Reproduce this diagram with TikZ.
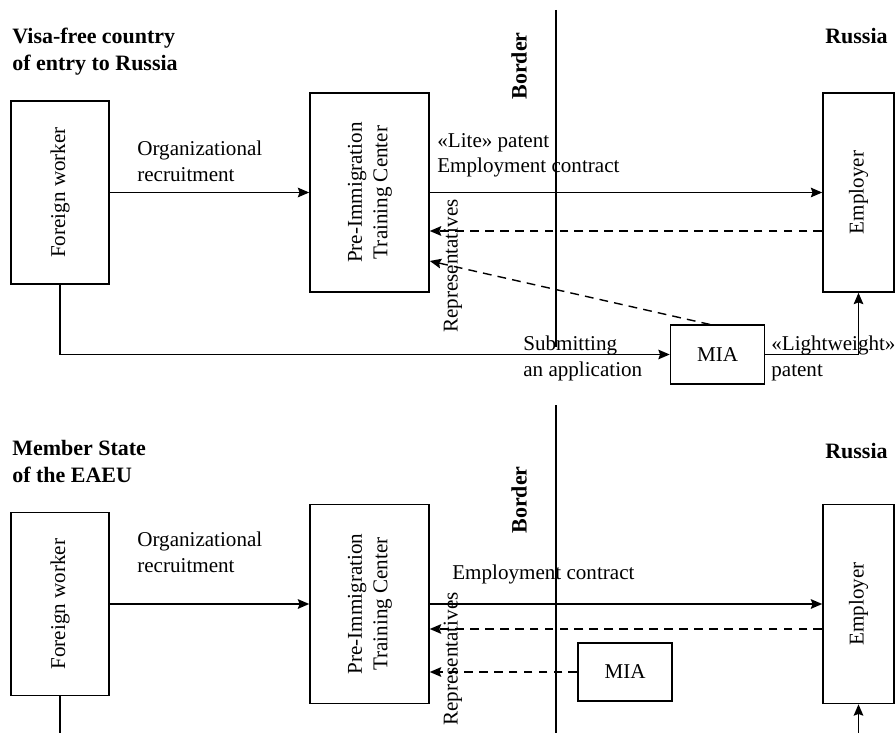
\documentclass[tikz,border=0pt]{standalone}
\usepackage{fontspec}
\setmainfont{Liberation Serif}
\usepackage{graphicx}
\usetikzlibrary{arrows.meta}
\usetikzlibrary{positioning}

\begin{document}
\begin{tikzpicture}[x=0.02cm,y=-0.02cm,
    every node/.style={font=\fontsize{12}{14.5}\selectfont},
    box/.style={draw,rectangle,line width=0.9pt,inner sep=0pt},
    workerbox/.style={box,minimum width=1.96cm,minimum height=3.66cm},
    pitcbox/.style={box,minimum width=2.38cm,minimum height=3.98cm},
    empbox/.style={box,minimum width=1.42cm,minimum height=3.98cm},
    miabox/.style={box,minimum width=1.88cm,minimum height=1.17cm},
    title/.style={font=\fontsize{12.5}{15.3}\selectfont\bfseries,inner sep=0pt,align=left},
    lbl/.style={inner sep=0pt,align=left,anchor=north west},
    link/.style={line width=0.8pt,-{Stealth[length=6.5pt,width=5.5pt,inset=1pt]}},
    back/.style={link,dash pattern=on 5pt off 3.5pt}]

  \useasboundingbox (0,0) rectangle (896,733);

  \node [title,anchor=north west] (visa) at (12,28) {Visa-free country\\of entry to Russia};
  \node [title,anchor=base west]  (rus1) at (825,44) {Russia};
  \node [title,rotate=90]         (bord1) at (519,66) {Border};

  \node [workerbox] (fw1)   at (60,192.5)    {\rotatebox{90}{Foreign worker}};
  \node [pitcbox]   (pitc1) at (369.5,192.5) {\rotatebox{90}{\begin{tabular}{@{}c@{}}Pre-Immigration\\Training Center\end{tabular}}};
  \node [empbox]    (emp1)  at (858.5,192.5) {\rotatebox{90}{Employer}};
  \node [miabox]    (mia1)  at (717.5,354.5) {MIA};

  \node [lbl] (org1)  at (137,141) {Organizational\\recruitment};
  \node [lbl] (lite)  at (437,133) {«Lite» patent\\Employment contract};
  \node [lbl] (subm)  at (523,336) {Submitting\\an application};
  \node [lbl] (light) at (771,336) {«Lightweight»\\patent};
  \node [rotate=90] (rep1) at (453,266) {Representatives};

  \draw [line width=0.8pt] (556,10) coordinate (b1top) -- (556,347) coordinate (b1bot);

  \path [link]
    (fw1)   edge (pitc1)
    (pitc1) edge (emp1);
  \draw [back] ([yshift=-0.77cm]emp1.west) -- ([yshift=-0.77cm]pitc1.east);
  \draw [back] ([xshift=-0.15cm]mia1.north) -- ([yshift=-1.37cm]pitc1.east);
  \draw [link] (fw1.south) |- (mia1.west);
  \draw [link] (mia1.east) -| (emp1.south);

  \node [title,anchor=north west] (eaeu) at (12,440) {Member State\\of the EAEU};
  \node [title,anchor=base west]  (rus2) at (825,458) {Russia};
  \node [title,rotate=90]         (bord2) at (519,500) {Border};

  \node [workerbox] (fw2)   at (60,604)    {\rotatebox{90}{Foreign worker}};
  \node [pitcbox]   (pitc2) at (369.5,604) {\rotatebox{90}{\begin{tabular}{@{}c@{}}Pre-Immigration\\Training Center\end{tabular}}};
  \node [empbox]    (emp2)  at (858.5,604) {\rotatebox{90}{Employer}};
  \node [miabox]    (mia2)  at (625,672)   {MIA};

  \node [lbl] (org2)  at (137,532) {Organizational\\recruitment};
  \node [lbl] (contr) at (452,565) {Employment contract};
  \node [rotate=90] (rep2) at (453,659) {Representatives};

  \draw [line width=0.8pt] (556,405) coordinate (b2top) -- (556,733) coordinate (b2bot);

  \coordinate (fw2end) at (60,733);
  \coordinate (emp2in) at (858.5,733);

  \path [link]
    (fw2)   edge (pitc2)
    (pitc2) edge (emp2);
  \draw [back] ([yshift=-0.5cm]emp2.west) -- ([yshift=-0.5cm]pitc2.east);
  \draw [back] (mia2.west) -- (mia2.west -| pitc2.east);
  \draw [line width=0.8pt] (fw2.south) -- (fw2end);
  \draw [link] (emp2in) -- (emp2.south);

\end{tikzpicture}
\end{document}
